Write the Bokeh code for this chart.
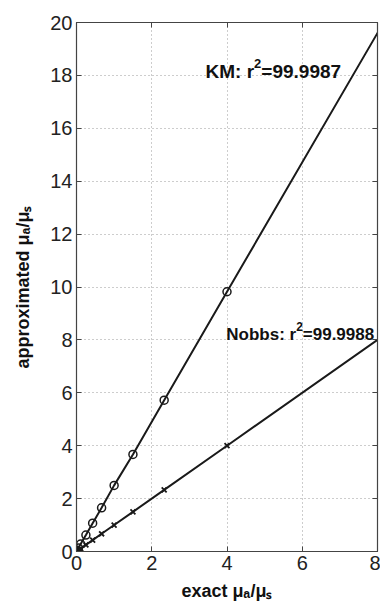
from bokeh.plotting import figure
from bokeh.models import Label, LinearAxis, FixedTicker, Range1d
from bokeh.embed import file_html
from bokeh.resources import INLINE

# ---- data ----
exact_ratio = [0.0, 0.0101, 0.0526, 0.111, 0.25, 0.429, 0.667, 1.0, 1.5, 2.33, 4.0, 9.0]
km_approx = [0.0, 0.03, 0.13, 0.28, 0.62, 1.07, 1.65, 2.5, 3.67, 5.72, 9.82, 22.05]
nobbs_approx = [0.0, 0.01, 0.05, 0.11, 0.25, 0.43, 0.67, 1.0, 1.5, 2.33, 4.0, 9.0]
x_ticks = [0, 2, 4, 6, 8]
y_ticks = [0, 2, 4, 6, 8, 10, 12, 14, 16, 18, 20]
km_text = ("KM: r", "2", "=99.9987")
nobbs_text = ("Nobbs: r", "2", "=99.9988")
x_title = "exact μₐ/μₛ"
y_title = "approximated μₐ/μₛ"

FONT = "Liberation Sans"
INK = "#1a1a1a"
SPINE = "#444444"

p = figure(width=380, height=604, x_range=Range1d(0, 8), y_range=Range1d(0, 20),
           output_backend="svg", toolbar_location=None,
           min_border_left=76, min_border_right=3, min_border_top=22, min_border_bottom=53,
           background_fill_color="white", border_fill_color="white")

p.outline_line_color = SPINE
p.outline_line_width = 1.2

for ax in [p.xaxis[0], p.yaxis[0]]:
    ax.major_label_text_font = FONT
    ax.major_label_text_font_size = "20px"
    ax.major_label_text_color = "#222222"
    ax.major_tick_in = 5
    ax.major_tick_out = 0
    ax.minor_tick_line_color = None
    ax.axis_line_color = SPINE
    ax.major_tick_line_color = SPINE
    ax.axis_label_text_font = FONT
    ax.axis_label_text_font_style = "bold"
    ax.axis_label_text_font_size = "18px"
    ax.axis_label_text_color = "#111111"
p.xaxis[0].ticker = FixedTicker(ticks=x_ticks)
p.yaxis[0].ticker = FixedTicker(ticks=y_ticks)
p.xaxis[0].major_label_standoff = 4
p.yaxis[0].major_label_standoff = 4
p.xaxis[0].axis_label = x_title
p.yaxis[0].axis_label = y_title
p.xaxis[0].axis_label_standoff = 8
p.yaxis[0].axis_label_standoff = 14

# mirror ticks on top and right (box style), without labels
top = LinearAxis(ticker=FixedTicker(ticks=x_ticks),
                 major_label_overrides={t: "" for t in x_ticks},
                 major_label_standoff=0, major_tick_in=5, major_tick_out=0,
                 minor_tick_line_color=None, axis_line_color=SPINE,
                 major_tick_line_color=SPINE)
right = LinearAxis(ticker=FixedTicker(ticks=y_ticks),
                   major_label_overrides={t: "" for t in y_ticks},
                   major_label_standoff=0, major_tick_in=5, major_tick_out=0,
                   minor_tick_line_color=None, axis_line_color=SPINE,
                   major_tick_line_color=SPINE)
p.add_layout(top, "above")
p.add_layout(right, "right")

p.xgrid.ticker = FixedTicker(ticks=x_ticks)
p.ygrid.ticker = FixedTicker(ticks=y_ticks)
for g in [p.xgrid[0], p.ygrid[0]]:
    g.grid_line_color = "#9a9a9a"
    g.grid_line_dash = "1 3"
    g.grid_line_width = 1

# series
p.line(exact_ratio, km_approx, line_color=INK, line_width=2)
p.scatter(exact_ratio, km_approx, marker="circle", size=8, fill_color=None,
          line_color=INK, line_width=1.5)
p.line(exact_ratio, nobbs_approx, line_color=INK, line_width=2)
p.scatter(exact_ratio, nobbs_approx, marker="x", size=7, line_color=INK, line_width=1.8)

# approximate Arial-Bold advance widths (per 1000 em) for composing superscripts
W = {'r': 389, ' ': 278, 'K': 722, 'M': 833, ':': 333, 'N': 722, 'o': 611, 'b': 611,
     's': 556, '=': 584, '.': 278}


def text_w(s, size):
    return sum(W.get(ch, 556) for ch in s) * size / 1000.0


def compose(x, y, pieces):
    adv = 0.0
    for txt, size, shift in pieces:
        p.add_layout(Label(x=x, y=y, x_offset=adv, y_offset=shift, text=txt,
                           text_font=FONT, text_font_style="bold",
                           text_font_size=f"{size}px", text_color="#111111",
                           text_baseline="alphabetic", text_align="left"))
        adv += text_w(txt, size)


compose(3.43, 18.15, [(km_text[0], 19, 0), (km_text[1], 13, 8), (km_text[2], 19, 0)])
compose(3.98, 8.2, [(nobbs_text[0], 17, 0), (nobbs_text[1], 12, 8), (nobbs_text[2], 17, 0)])

open("out.html", "w").write(file_html(p, INLINE))
